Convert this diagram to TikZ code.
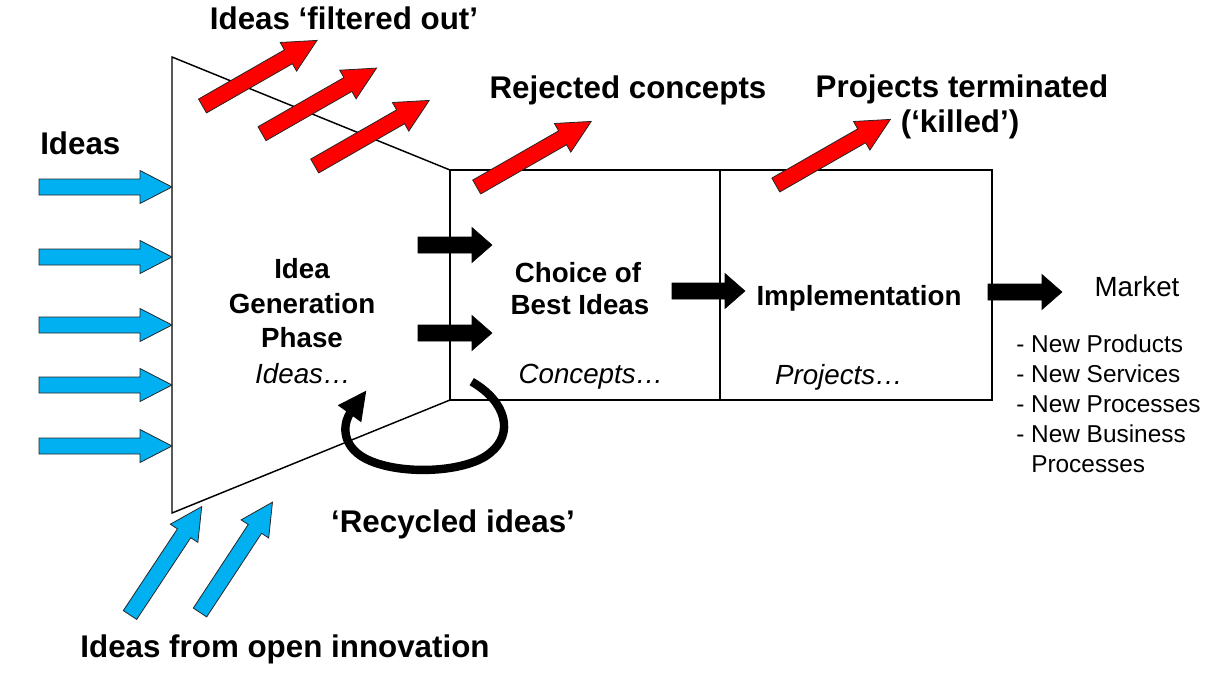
\documentclass[tikz,border=0pt]{standalone}
\usepackage{fontspec}
\setmainfont{Liberation Sans}
\usetikzlibrary{arrows.meta}
\definecolor{ideablue}{RGB}{0,176,240}
\definecolor{killred}{RGB}{255,0,0}
\newcommand\fatarr[8]{%
  \begin{scope}[shift={(#2,#3)},rotate=#4]
  \draw[#1] (0,-#6/2) -- ({#5-#8},-#6/2) -- ({#5-#8},-#7/2) -- (#5,0) -- ({#5-#8},#7/2) -- ({#5-#8},#6/2) -- (0,#6/2) -- cycle;
  \end{scope}}
\tikzset{
  frame/.style={draw=black, line width=1.1pt, line join=miter},
  bluearr/.style={fill=ideablue, draw=black!85, line width=0.6pt},
  redarr/.style={fill=killred, draw=black!85, line width=0.6pt},
  blackarr/.style={fill=black, draw=black, line width=0.4pt},
  head/.style={font=\fontsize{23.5}{28}\selectfont\bfseries, inner sep=0pt, anchor=base},
  lab/.style={font=\fontsize{20.8}{25}\selectfont\bfseries, inner sep=0pt, anchor=base},
  ital/.style={font=\fontsize{20.8}{25}\selectfont\itshape, inner sep=0pt, anchor=base},
  plainlab/.style={font=\fontsize{20.8}{25}\selectfont, inner sep=0pt, anchor=base},
  listlab/.style={font=\fontsize{18.3}{22}\selectfont, inner sep=0pt, anchor=base west},
}
\begin{document}
\begin{tikzpicture}[x=0.75pt, y=-0.75pt]
\useasboundingbox (0,0) rectangle (1221,682);
% funnel and boxes
\coordinate (f1) at (172,57);
\coordinate (f2) at (450,170);
\coordinate (f3) at (450,400);
\coordinate (f4) at (172,513);
\draw[frame] (f1) -- (f2) -- (f3) -- (f4) -- cycle;
\draw[frame] (450,170) rectangle (720,400);
\draw[frame] (720,170) rectangle (992,400);
% blue input arrows (left)
\foreach \yy in {187,257,325,385,446}{\fatarr{bluearr}{39}{\yy}{0}{133}{16}{33}{32}}
% blue input arrows (bottom)
\fatarr{bluearr}{130}{615}{56.5}{130}{16}{33}{32}
\fatarr{bluearr}{200}{612.5}{56.7}{132}{16}{33}{32}
% red arrows
\fatarr{redarr}{202.5}{106}{29.8}{132}{16}{33}{33}
\fatarr{redarr}{262}{133.7}{29.8}{132}{16}{33}{33}
\fatarr{redarr}{314.7}{166}{29.8}{132}{16}{33}{33}
\fatarr{redarr}{476.7}{187}{29.8}{132}{16}{33}{33}
\fatarr{redarr}{775.8}{185}{29.8}{132}{16}{33}{33}
% black flow arrows
\fatarr{blackarr}{418}{245}{0}{74}{16}{35}{20}
\fatarr{blackarr}{418}{333}{0}{74}{16}{35}{20}
\fatarr{blackarr}{672}{291}{0}{73}{16}{35}{20}
\fatarr{blackarr}{988}{292}{0}{74}{16}{35}{20}
% recycling loop
\coordinate (loopstart) at (471.7,381.7);
\coordinate (loopend) at (366.7,390);
\draw[line width=6.3pt, -{Triangle[length=22pt,width=20pt]}]
  (loopstart) .. controls (507,402) and (514,434) .. (490,453)
  .. controls (465,474) and (392,476) .. (361,456)
  .. controls (339,441) and (345,420) .. (loopend);
% texts
\node[head] (tfilt) at (344,29) {Ideas ‘filtered out’};
\node[head, anchor=base west] (tideas) at (40,154) {Ideas};
\node[head] (trej) at (628,98) {Rejected concepts};
\node[head] (tproj1) at (962,97) {Projects terminated};
\node[head] (tproj2) at (960,132) {(‘killed’)};
\node[lab] (tig1) at (302,278) {Idea};
\node[lab] (tig2) at (302,313) {Generation};
\node[lab] (tig3) at (302,347) {Phase};
\node[ital] (tig4) at (303,383) {Ideas…};
\node[lab] (tch1) at (578,282) {Choice of};
\node[lab] (tch2) at (580,314) {Best Ideas};
\node[ital] (tch3) at (591,383) {Concepts…};
\node[lab] (timp1) at (859,305) {Implementation};
\node[ital] (timp2) at (839,384) {Projects…};
\node[plainlab] (tmkt) at (1137,296) {Market};
\node[listlab] (tl1) at (1016,352) {- New Products};
\node[listlab] (tl2) at (1016,382) {- New Services};
\node[listlab] (tl3) at (1016,412) {- New Processes};
\node[listlab] (tl4) at (1016,442) {- New Business};
\node[listlab] (tl5) at (1031,472) {Processes};
\node[head] (trec) at (453,532) {‘Recycled ideas’};
\node[head] (topen) at (285,657) {Ideas from open innovation};
\end{tikzpicture}
\end{document}
